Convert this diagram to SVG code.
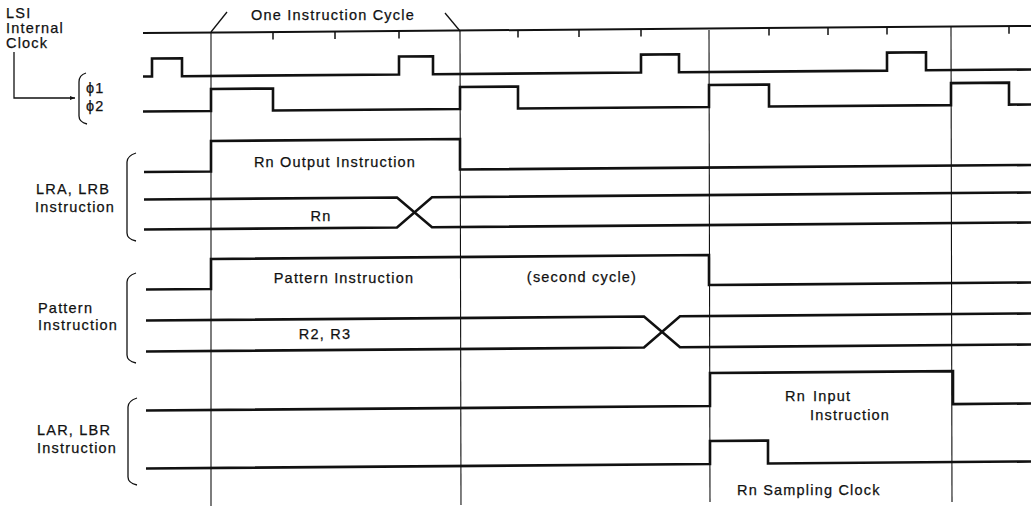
<svg xmlns="http://www.w3.org/2000/svg" width="1034" height="507" viewBox="0 0 1034 507">
<style>
text{font-family:"Liberation Sans","DejaVu Sans",Arial,sans-serif;font-size:14.5px;letter-spacing:1.2px;fill:#111;stroke:#111;stroke-width:0.25}
.c{text-anchor:middle}
.w{fill:none;stroke:#111;stroke-width:2.6;stroke-linejoin:miter}
.g{fill:none;stroke:#111;stroke-width:1.1}
.t{fill:none;stroke:#111;stroke-width:1.5}
.b{fill:none;stroke:#111;stroke-width:1.3}
</style>
<defs>
<marker id="ah" viewBox="0 0 10 10" refX="10" refY="5" markerWidth="5" markerHeight="5" orient="auto" markerUnits="userSpaceOnUse">
<path d="M0,1 L10,5 L0,9 z" fill="#111"/>
</marker>
</defs>
<rect width="1034" height="507" fill="#fff"/>

<g id="grid">
<line class="g" x1="211" y1="33" x2="211" y2="506"/>
<line class="g" x1="460" y1="31" x2="461" y2="505"/>
<line class="g" x1="709" y1="30" x2="710" y2="502"/>
<line class="g" x1="951" y1="27" x2="952" y2="502"/>
<line class="b" x1="211" y1="32" x2="227" y2="12"/>
<line class="b" x1="445" y1="13" x2="460" y2="31"/>
<text class="c" x="333" y="20">One Instruction Cycle</text>
</g>

<g id="waves" transform="translate(0,4.7) skewY(-0.458)">
<g id="ruler">
<line class="w" style="stroke-width:2" x1="143" y1="29.5" x2="1031" y2="29.5"/>
<path class="t" d="M273,29.5V37M335,29.5V37M399,29.5V37M518,29.5V37M579,29.5V37M641,29.5V37M769,29.5V37M828,29.5V37M887,29.5V37M1009,29.5V37"/>
</g>
<g id="phi1"><path class="w" d="M143,73H152V55H182V73H399V55H433V73H641V55H679V73H887V55H926V73H1031"/></g>
<g id="phi2"><path class="w" d="M143,108H211V86H273V108H460V86H518V108H709V86H769V108H951V86H1009V108H1031"/></g>
<g id="rnout"><path class="w" d="M144,168.5H211V138H460V168.5H1031"/></g>
<g id="rnbus">
<path class="w" d="M144,196H397L432,226H1031"/>
<path class="w" d="M144,226H397L432,196H1031"/>
</g>
<g id="pattern"><path class="w" d="M146,286H211V256H709V286H1031"/></g>
<g id="r2r3">
<path class="w" d="M146,317H644L680,348H1031"/>
<path class="w" d="M146,348H644L680,317H1031"/>
</g>
<g id="larin"><path class="w" d="M146,407H710V374H953V407H1031"/></g>
<g id="larclk"><path class="w" d="M146,465H710V442H768V465H1031"/></g>
</g>

<g id="labels">
<text x="6" y="18">LSI</text>
<text x="6" y="33">Internal</text>
<text x="6" y="48">Clock</text>
<text x="86" y="93">ϕ1</text>
<text x="86" y="111">ϕ2</text>
<path class="b" d="M86,73 Q79,75 79,82 V116 Q79,122 87,124"/>
<text x="36" y="194">LRA, LRB</text>
<text x="35" y="212">Instruction</text>
<path class="b" d="M136,153 Q127,156 127,162 V233 Q127,239 136,241"/>
<text x="38" y="313">Pattern</text>
<text x="38" y="330">Instruction</text>
<path class="b" d="M136,273 Q127,276 127,282 V355 Q127,361 136,363"/>
<text x="37" y="435">LAR, LBR</text>
<text x="37" y="453">Instruction</text>
<path class="b" d="M137,398 Q128,401 128,407 V477 Q128,483 137,485"/>
<text class="c" x="335" y="167">Rn Output Instruction</text>
<text class="c" x="321" y="221">Rn</text>
<text class="c" x="344" y="283">Pattern Instruction</text>
<text class="c" x="582" y="282">(second cycle)</text>
<text class="c" x="325" y="339">R2, R3</text>
<text x="785" y="401">Rn</text>
<text x="813" y="401">Input</text>
<text x="810" y="420">Instruction</text>
<text x="737" y="495">Rn Sampling Clock</text>
</g>

<g id="connectors">
<path class="b" d="M14,52 V98 H75" marker-end="url(#ah)"/>
</g>
</svg>
